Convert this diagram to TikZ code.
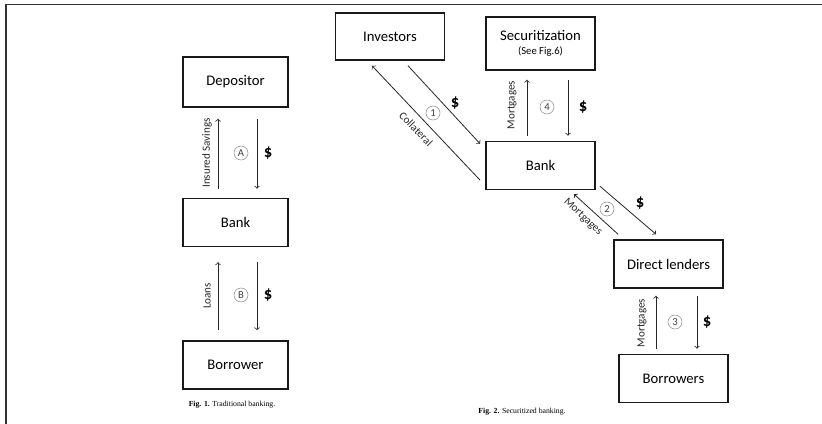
\documentclass[tikz,border=0pt]{standalone}
\usepackage{fontspec}
\setmainfont{Carlito}
\newfontfamily\capfont{Liberation Serif}
\usetikzlibrary{positioning}
\usetikzlibrary{calc}
\tikzstyle{party}=[draw=black!90, line width=1.1pt, minimum width=82pt, minimum height=36pt, font=\fontsize{11}{13}\selectfont]
\tikzstyle{narrow}=[minimum width=78.75pt]
\tikzstyle{flow}=[->, draw=black!85, line width=0.6pt]
\tikzstyle{tag}=[circle, draw=black!45, inner sep=0pt, minimum size=10.5pt, text=black!75, font=\fontsize{8}{9}\selectfont]
\tikzstyle{money}=[font=\bfseries\fontsize{12.5}{13}\selectfont]
\tikzstyle{goods}=[text=black!85, font=\fontsize{8.3}{9}\selectfont, inner sep=0pt]
\tikzstyle{caption}=[font=\capfont\fontsize{5.8}{7}\selectfont]

\begin{document}
\begin{tikzpicture}[x=0.75pt, y=-0.75pt]
    \useasboundingbox (0,0) rectangle (822,424);
    \draw[line width=1.1pt, black!80] (6,424) -- (6,4.5) -- (822,4.5);

    % Fig. 1
    \node[party, narrow, minimum height=37.5pt] (depositor) at (235.5,82) {Depositor};
    \node[party, narrow] (bankA)    [below=67.5pt of depositor] {Bank};
    \node[party, narrow] (borrower) [below=69.75pt of bankA]    {Borrower};

    \draw[flow] ($(bankA.north)+(-17.5,-9)$) -- ($(depositor.south)+(-17.5,11)$);
    \draw[flow] ($(depositor.south)+(21.5,11)$) -- ($(bankA.north)+(21.5,-9)$);
    \draw[flow] ($(borrower.north)+(-17.5,-10)$) -- ($(bankA.south)+(-17.5,15)$);
    \draw[flow] ($(bankA.south)+(21.5,15)$) -- ($(borrower.north)+(21.5,-10)$);

    \node[goods, rotate=90] (savings) at (207,153) {Insured Savings};
    \node[tag]   (markA) at (241,153) {A};
    \node[money] (cashA) at (268,153) {\$};
    \node[goods, rotate=90] (loans) at (207,296) {Loans};
    \node[tag]   (markB) at (241,295) {B};
    \node[money] (cashB) at (268,295) {\$};

    \node[caption] (cap1) at (232,405) {\textbf{Fig. 1.} Traditional banking.};

    % Fig. 2
    \node[party, minimum height=35.25pt] (investors) at (390,36.5) {Investors};
    \node[party, minimum height=39.75pt, align=center] (secur) at (540.5,43.5)
        {Securitization\\[-2pt]{\fontsize{8}{9}\selectfont(See Fig.6)}};
    \node[party] (bankB)     [below=52.5pt of secur] {Bank};
    \node[party] (lenders)   at (668.5,264) {Direct lenders};
    \node[party] (borrowers) [below=48.75pt of lenders, xshift=3.75pt] {Borrowers};

    \draw[flow] ($(investors.south)+(18,5)$) -- ($(bankB.north west)+(-5,3)$);
    \draw[flow] ($(bankB.south west)+(-5,-10)$) -- ($(investors.south)+(-18,5)$);
    \draw[flow] ($(bankB.north)+(-13.5,-5)$) -- ($(secur.south)+(-13.5,9)$);
    \draw[flow] ($(secur.south)+(27.5,9)$) -- ($(bankB.north)+(27.5,-5)$);
    \draw[flow] ($(bankB.south east)+(4,-4)$) -- ($(lenders.north)+(-12.5,-5)$);
    \draw[flow] ($(lenders.north west)+(5,-5)$) -- ($(bankB.south)+(33.5,4)$);
    \draw[flow] ($(borrowers.north)+(-17.5,-5)$) -- ($(lenders.south)+(-12.5,7)$);
    \draw[flow] ($(lenders.south)+(28.5,7)$) -- ($(borrowers.north)+(23.5,-5)$);

    \node[goods, rotate=-46] (collat) at (416,129) {Collateral};
    \node[tag]   (mark1) at (433,113) {1};
    \node[money] (cash1) at (455,103) {\$};
    \node[goods, rotate=90] (mort4) at (512,105) {Mortgages};
    \node[tag]   (mark4) at (547,107) {4};
    \node[money] (cash4) at (583,107) {\$};
    \node[goods, rotate=-43] (mort2) at (583,217) {Mortgages};
    \node[tag]   (mark2) at (607,209) {2};
    \node[money] (cash2) at (640,203) {\$};
    \node[goods, rotate=90] (mort3) at (642,323) {Mortgages};
    \node[tag]   (mark3) at (675,322) {3};
    \node[money] (cash3) at (707,322) {\$};

    \node[caption] (cap2) at (522,412) {\textbf{Fig. 2.} Securitized banking.};
\end{tikzpicture}
\end{document}
